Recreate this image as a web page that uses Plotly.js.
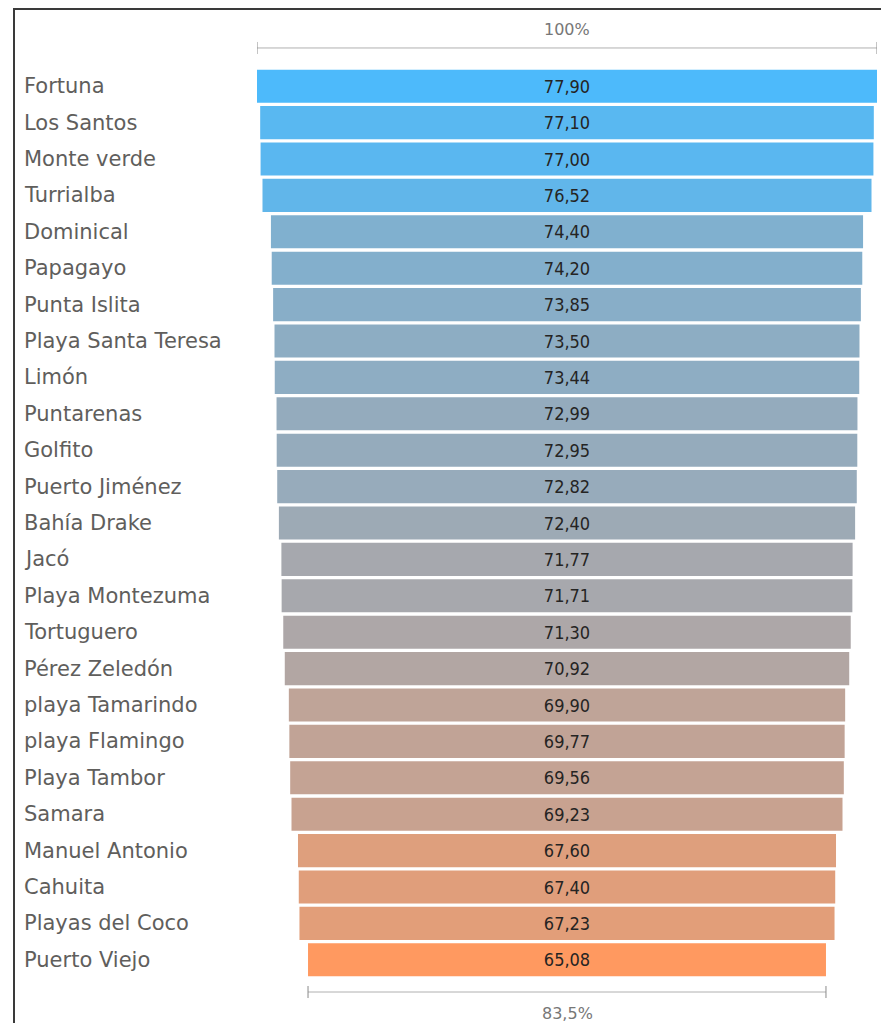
<!DOCTYPE html>
<html>
<head>
<meta charset="utf-8">
<script src="https://cdn.plot.ly/plotly-3.0.1.min.js"></script>
<style>
  html, body { margin: 0; padding: 0; background: #ffffff; overflow: hidden; }
  #chart { position: absolute; left: 0; top: 0; width: 881px; height: 1023px; }
  #frame { position: absolute; left: 13px; top: 8px; width: 900px; height: 1100px;
           border-left: 2px solid #3a3a3a; border-top: 2px solid #3a3a3a; pointer-events: none; }
</style>
</head>
<body>
<div id="chart"></div>
<div id="frame"></div>
<script>
const categories = [
  "Fortuna", "Los Santos", "Monte verde", "Turrialba", "Dominical", "Papagayo",
  "Punta Islita", "Playa Santa Teresa", "Limón", "Puntarenas", "Golfito",
  "Puerto Jiménez", "Bahía Drake", "Jacó", "Playa Montezuma", "Tortuguero",
  "Pérez Zeledón", "playa Tamarindo", "playa Flamingo", "Playa Tambor", "Samara",
  "Manuel Antonio", "Cahuita", "Playas del Coco", "Puerto Viejo"
];
const values = [
  77.90, 77.10, 77.00, 76.52, 74.40, 74.20, 73.85, 73.50, 73.44, 72.99, 72.95,
  72.82, 72.40, 71.77, 71.71, 71.30, 70.92, 69.90, 69.77, 69.56, 69.23,
  67.60, 67.40, 67.23, 65.08
];
// diverging colour scale: min -> centre -> max
const colorStops = ["#FF9960", "#AAA7AA", "#4DBAFB"];

const vMax = Math.max(...values);
const vMin = Math.min(...values);
const lastPct = (vMin / vMax * 100).toFixed(1).replace(".", ",") + "%";

function hexToRgb(h) {
  return [1, 3, 5].map(i => parseInt(h.substr(i, 2), 16));
}
function scaleColor(v) {
  const t = (v - vMin) / (vMax - vMin);
  let a, b, f;
  if (t <= 0.5) { a = hexToRgb(colorStops[0]); b = hexToRgb(colorStops[1]); f = t / 0.5; }
  else { a = hexToRgb(colorStops[1]); b = hexToRgb(colorStops[2]); f = (t - 0.5) / 0.5; }
  const c = a.map((x, i) => Math.round(x + (b[i] - x) * f));
  return "rgb(" + c.join(",") + ")";
}

const FONT = "'DejaVu Sans', sans-serif";
const FONT_C = "'DejaVu Sans Condensed', 'DejaVu Sans', sans-serif";
const labelColor = "#605E5C";
const lineColor = "#B0B0B0";

const trace = {
  type: "funnel",
  y: categories,
  x: values,
  orientation: "h",
  textposition: "inside",
  insidetextanchor: "middle",
  texttemplate: "%{x:.2f}",
  textfont: { family: FONT_C, size: 18, color: "#252423" },
  constraintext: "none",
  marker: {
    color: values.map(scaleColor),
    line: { width: 0 }
  },
  connector: { visible: false },
  hoverinfo: "y+x"
};

const annotations = categories.map(c => ({
  xref: "paper", yref: "y", x: -0.3790, y: c,
  text: c, showarrow: false, xanchor: "left", yanchor: "middle",
  font: { family: FONT, size: 21, color: labelColor }
}));
annotations.push({
  xref: "x", yref: "paper", x: 0, y: 1.0418, text: "100%", showarrow: false,
  xanchor: "center", yanchor: "middle",
  font: { family: FONT, size: 16, color: "#777777" }
});
annotations.push({
  xref: "x", yref: "paper", x: 0, y: -0.0385, text: lastPct, showarrow: false,
  xanchor: "center", yanchor: "middle",
  font: { family: FONT, size: 16, color: "#777777" }
});

function bracket(v, yLine, yT0, yT1) {
  return [
    { type: "line", xref: "x", yref: "paper", x0: -v / 2, x1: v / 2, y0: yLine, y1: yLine,
      line: { color: lineColor, width: 1 } },
    { type: "line", xref: "x", yref: "paper", x0: -v / 2, x1: -v / 2, y0: yT0, y1: yT1,
      line: { color: "#8a8a8a", width: 1 } },
    { type: "line", xref: "x", yref: "paper", x0: v / 2, x1: v / 2, y0: yT0, y1: yT1,
      line: { color: "#8a8a8a", width: 1 } }
  ];
}
const shapes = [
  ...bracket(vMax, 1.022, 1.0154, 1.0286),
  ...bracket(vMin, -0.0154, -0.0088, -0.022)
];

const layout = {
  width: 881,
  height: 1023,
  margin: { l: 257, r: 4, t: 68, b: 45, pad: 0 },
  paper_bgcolor: "#ffffff",
  plot_bgcolor: "#ffffff",
  separators: ",.",
  showlegend: false,
  funnelgap: 0.09,
  xaxis: { range: [-vMax / 2, vMax / 2], visible: false, fixedrange: true },
  yaxis: { type: "category", autorange: "reversed", showticklabels: false,
           showgrid: false, zeroline: false, showline: false, ticks: "", fixedrange: true },
  annotations: annotations,
  shapes: shapes
};

Plotly.newPlot("chart", [trace], layout, { displayModeBar: false, staticPlot: true });
</script>
</body>
</html>
